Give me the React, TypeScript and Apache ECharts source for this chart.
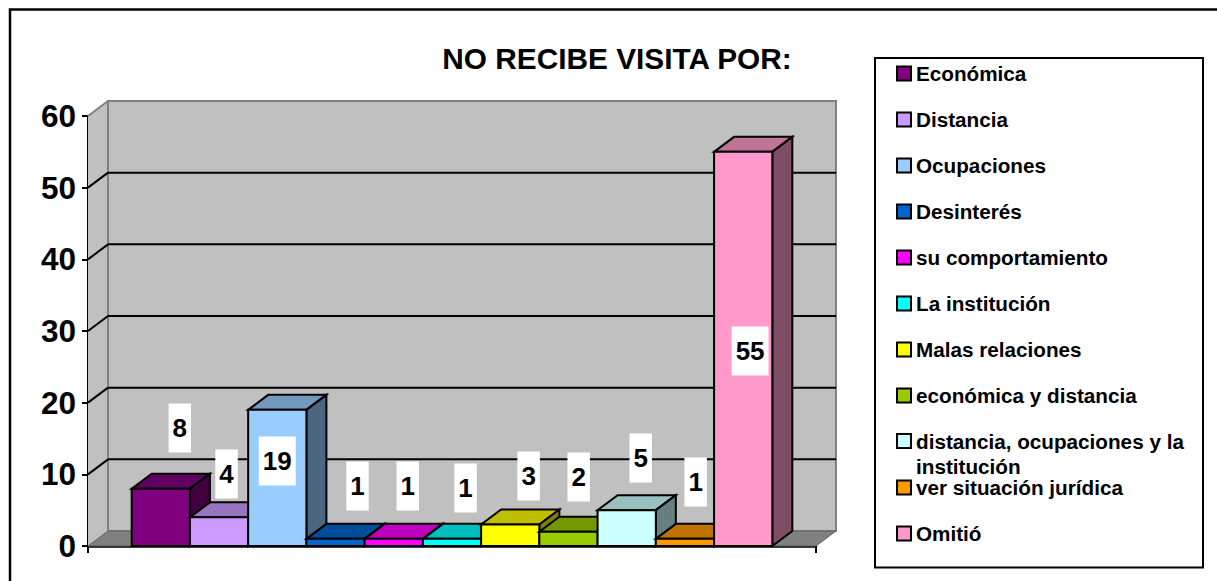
import React, { useEffect, useRef } from "react";
import * as echarts from "echarts";

const categories = ["Económica", "Distancia", "Ocupaciones", "Desinterés", "su comportamiento", "La institución", "Malas relaciones", "económica y distancia", "distancia, ocupaciones y la\ninstitución", "ver situación jurídica", "Omitió"];
const values = [8, 4, 19, 1, 1, 1, 3, 2, 5, 1, 55];
const colors = ["#800080", "#CC99FF", "#99CCFF", "#0066CC", "#FF00FF", "#00FFFF", "#FFFF00", "#99CC00", "#CCFFFF", "#FF9900", "#FF99CC"];
const yTicks = [0, 10, 20, 30, 40, 50, 60];
const labelOffsetX = [19, 7.5, 0, 22, 14, 13.6, 18.4, 10.2, 14, 10.7, 6.9];
const labelCenterY = [428, 474, 461, 486, 486, 488, 476, 477, 458, 482, 351];

const DX = 20;
const DY = -15;
const FONT = "Liberation Sans, Arial, sans-serif";

function shade(hex: string, f: number) {
  const n = parseInt(hex.slice(1), 16);
  const c = [(n >> 16) & 255, (n >> 8) & 255, n & 255].map((v) => Math.round(v * f));
  return `rgb(${c[0]},${c[1]},${c[2]})`;
}

export default function App() {
  const ref = useRef<HTMLDivElement>(null);
  useEffect(() => {
    const chart = echarts.init(ref.current!, undefined, { renderer: "svg" });
    const line = { stroke: "#000", lineWidth: 2 };
    const barSeries = categories.map((name, i) => ({
      type: "custom",
      name,
      z: 3,
      coordinateSystem: "cartesian2d",
      itemStyle: { color: colors[i], borderColor: "#000", borderWidth: 2 },
      data: [[0, values[i]]],
      renderItem: (_p: any, api: any) => {
        const top = api.coord([0, api.value(1)]);
        const base = api.coord([0, 0]);
        const w = api.size([1, 0])[0] * 0.08;
        const x0 = top[0] + (i - 5.5) * w;
        const x1 = x0 + w;
        const y0 = top[1];
        const y1 = base[1];
        const col = colors[i];
        const centerX = x0 + w / 2 + labelOffsetX[i];
        return {
          type: "group",
          children: [
            { type: "polygon", shape: { points: [[x0, y0], [x1, y0], [x1 + DX, y0 + DY], [x0 + DX, y0 + DY]] }, style: { fill: shade(col, 0.75), ...line } },
            { type: "polygon", shape: { points: [[x1, y0], [x1 + DX, y0 + DY], [x1 + DX, y1 + DY], [x1, y1]] }, style: { fill: shade(col, 0.5), ...line } },
            { type: "rect", shape: { x: x0, y: y0, width: w, height: y1 - y0 }, style: { fill: col, ...line } },
            {
              type: "text",
              z2: 100,
              x: centerX,
              y: labelCenterY[i],
              style: {
                text: String(api.value(1)),
                font: `bold 26px ${FONT}`,
                fill: "#000",
                align: "center",
                verticalAlign: "middle",
                backgroundColor: "#fff",
                padding: [10, 4],
                lineHeight: 29,
              },
            },
          ],
        };
      },
    }));

    const wallSeries = {
      type: "custom",
      name: "walls",
      silent: true,
      z: 1,
      data: [[0, 0]],
      renderItem: (_p: any, api: any) => {
        const s = api.size([1, 0])[0];
        const c = api.coord([0, 0]);
        const xl = c[0] - s / 2;
        const xr = c[0] + s / 2;
        const y0 = c[1];
        const yt = api.coord([0, 60])[1];
        const children: any[] = [
          { type: "polygon", shape: { points: [[xl, yt], [xl + DX, yt + DY], [xl + DX, y0 + DY], [xl, y0]] }, style: { fill: "#C0C0C0" } },
          { type: "rect", shape: { x: xl + DX, y: yt + DY, width: s, height: y0 - yt }, style: { fill: "#C0C0C0", stroke: "#808080", lineWidth: 2 } },
          { type: "polygon", shape: { points: [[xl, y0], [xl + DX, y0 + DY], [xr + DX, y0 + DY], [xr, y0]] }, style: { fill: "#808080", stroke: "#606060", lineWidth: 1 } },
          { type: "line", shape: { x1: xl, y1: yt, x2: xl + DX, y2: yt + DY }, style: { stroke: "#808080", lineWidth: 2 } },
        ];
        yTicks.slice(1, -1).forEach((t) => {
          const y = api.coord([0, t])[1];
          children.push({ type: "line", shape: { x1: xl + DX, y1: y + DY, x2: xr + DX, y2: y + DY }, style: line });
          children.push({ type: "line", shape: { x1: xl, y1: y, x2: xl + DX, y2: y + DY }, style: line });
        });
        return { type: "group", children };
      },
    };

    const legends = categories.map((name, i) => {
      const multi = name.includes("\n");
      return {
        data: [{ name, icon: "rect", itemStyle: { color: colors[i], borderColor: "#000", borderWidth: 2 } }],
        orient: "vertical",
        left: 896,
        top: multi ? 403.5 : 63 + i * 46,
        itemWidth: 14,
        itemHeight: 14,
        itemGap: 0,
        padding: 0,
        selectedMode: false,
        formatter: (n: string) => (n.includes("\n") ? "\n" + n : n),
        textStyle: {
          fontFamily: FONT,
          fontWeight: "bold",
          fontSize: 20.7,
          color: "#000",
          lineHeight: multi ? 25 : 18,
        },
      };
    });

    chart.setOption({
      animation: false,
      backgroundColor: "#fff",
      title: {
        text: "NO RECIBE VISITA POR:",
        left: 612,
        textAlign: "center",
        top: 38,
        textStyle: { fontFamily: FONT, fontWeight: "bold", fontSize: 29.8, color: "#000" },
      },
      grid: { left: 88, top: 116, width: 728, height: 430 },
      xAxis: {
        type: "category",
        data: [""],
        axisLine: { lineStyle: { color: "#000", width: 2.5 } },
        axisTick: { show: true, length: 7, lineStyle: { color: "#000", width: 2 } },
        axisLabel: { show: false },
      },
      yAxis: {
        type: "value",
        min: 0,
        max: 60,
        interval: 10,
        splitLine: { show: false },
        axisLine: { show: true, lineStyle: { color: "#000", width: 2 } },
        axisTick: { show: true, length: 6, lineStyle: { color: "#000", width: 2 } },
        axisLabel: { fontFamily: FONT, fontWeight: "bold", fontSize: 31.5, color: "#000", margin: 12 },
      },
      legend: legends,
      graphic: [
        { type: "rect", z: -10, shape: { x: 10, y: 9.5, width: 1400, height: 800 }, style: { fill: "none", stroke: "#000", lineWidth: 2.5 } },
        { type: "rect", z: -10, shape: { x: 875, y: 58, width: 328, height: 509.5 }, style: { fill: "#fff", stroke: "#000", lineWidth: 2 } },
      ],
      series: [wallSeries, ...barSeries],
    });
    return () => chart.dispose();
  }, []);
  return <div ref={ref} style={{ position: "absolute", left: 0, top: 0, width: 1217, height: 581 }} />;
}
